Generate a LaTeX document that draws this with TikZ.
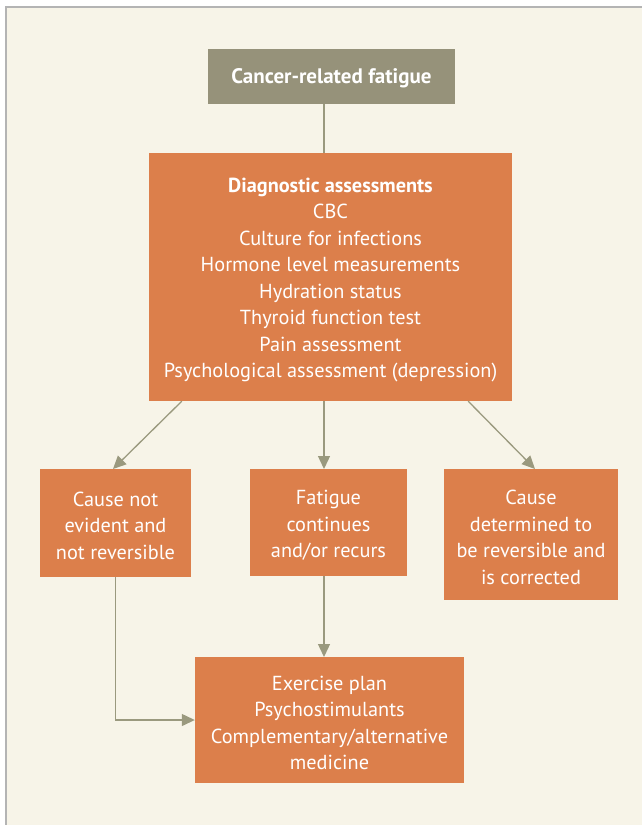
\documentclass[tikz,border=0pt]{standalone}
\usepackage{fontspec}
\setmainfont{PT Sans}
\usetikzlibrary{arrows.meta,calc}
\definecolor{cream}{HTML}{F7F4E8}
\definecolor{frameg}{HTML}{B4B4B4}
\definecolor{orangebox}{HTML}{DC7F4B}
\definecolor{olivebox}{HTML}{96927A}
\definecolor{lineg}{HTML}{9A997E}
\newcommand{\dn}{\rule{0pt}{20pt}}
\tikzset{
  box/.style={fill=orangebox, draw=none, text=white, align=center, inner sep=0pt,
    font=\fontsize{20.3}{26.5}\selectfont},
  conn/.style={draw=lineg, line width=1.3pt},
  arr/.style={conn, -{Triangle[length=13pt,width=12pt]}},
}
\begin{document}
\begin{tikzpicture}[x=1pt,y=-1pt]
\useasboundingbox (0,0) rectangle (642,825);
\fill[white] (0,0) rectangle (642,825);
\fill[cream] (6,7) rectangle (642,825);
\draw[frameg, line width=1.5pt] (6,825) -- (6,7) -- (642,7);

\node[box, fill=olivebox, minimum width=247, minimum height=55, font=\bfseries\fontsize{21}{26.5}\selectfont] (top) at (331.5,76.5) {\rule{0pt}{19pt}Cancer-related fatigue};
\node[box, minimum width=363, minimum height=248] (diag) at (330.5,277)
  {\dn\textbf{Diagnostic assessments}\\CBC\\Culture for infections\\Hormone level measurements\\Hydration status\\Thyroid function test\\Pain assessment\\Psychological assessment (depression)};
\node[box, minimum width=151, minimum height=108] (left) at (115.5,523) {\dn Cause not\\evident and\\not reversible};
\node[box, minimum width=157, minimum height=107] (mid) at (328.5,522.5) {\dn Fatigue\\continues\\and/or recurs};
\node[box, minimum width=174, minimum height=131] (right) at (531,534.5) {\dn Cause\\determined to\\be reversible and\\is corrected};
\node[box, minimum width=269, minimum height=126] (bot) at (329.5,720) {\dn Exercise plan\\Psychostimulants\\Complementary/alternative\\medicine};

\coordinate (dsl) at ($(diag.south west)+(33,0)$);
\coordinate (dsr) at ($(diag.south east)+(-44,0)$);
\coordinate (dsm) at (324,401);
\coordinate (tsm) at (324,104);
\coordinate (dtm) at (324,153);
\coordinate (mnm) at (324,469);
\coordinate (msm) at (324,576);
\coordinate (bnm) at (324,657);
\coordinate (lnt) at (113,469);
\coordinate (rnt) at (535,469);

\draw[conn] (tsm) -- (dtm);
\draw[arr] (dsl) -- (lnt);
\draw[arr] (dsm) -- (mnm);
\draw[arr] (dsr) -- (rnt);
\draw[arr] (msm) -- (bnm);
\draw[arr] (left.south) |- (bot.west);
\end{tikzpicture}
\end{document}
